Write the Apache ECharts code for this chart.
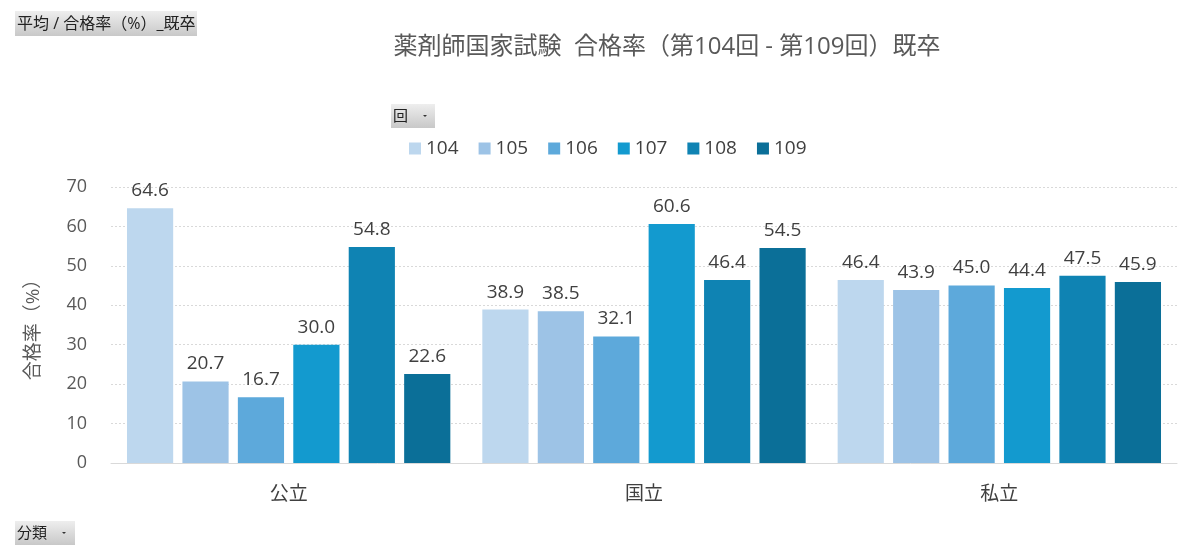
<!DOCTYPE html>
<html>
<head>
    <meta charset='UTF-8'>
    <script src="https://cdn.jsdelivr.net/npm/echarts@6/dist/echarts.min.js"></script>
    <style>
        html, body { margin: 0; padding: 0; background: #fff; }
        #chart { width: 1200px; height: 558px; }
    </style>
    <title>合格率</title>
</head>
<body>
    <div id="chart"></div>
    <script>
        // data
        var categories = ['公立', '国立', '私立'];
        var rounds = ['104', '105', '106', '107', '108', '109'];
        var rate104 = [64.6, 38.9, 46.4];
        var rate105 = [20.7, 38.5, 43.9];
        var rate106 = [16.7, 32.1, 45.0];
        var rate107 = [30.0, 60.6, 44.4];
        var rate108 = [54.8, 46.4, 47.5];
        var rate109 = [22.6, 54.5, 45.9];
        var yTicks = [0, 10, 20, 30, 40, 50, 60, 70];

        var allRates = [rate104, rate105, rate106, rate107, rate108, rate109];
        var colors = ['#BDD7EE', '#9DC3E6', '#5DA9DB', '#139ACF', '#0F83B3', '#0B6F98'];
        var font = '"Open Sans", "Noto Sans CJK JP", sans-serif';

        var myChart = echarts.init(document.getElementById('chart'), null, { renderer: 'canvas' });

        // gray filter-button look, optional dropdown arrow at arrowX
        function button(x, y, w, h, label, size, arrowX) {
            var kids = [{
                type: 'rect',
                shape: { x: 0, y: 0, width: w, height: h },
                style: {
                    fill: {
                        type: 'linear', x: 0, y: 0, x2: 0, y2: 1,
                        colorStops: [{ offset: 0, color: '#eeeeee' }, { offset: 1, color: '#c8c8c8' }]
                    }
                }
            }, {
                type: 'text',
                x: 2,
                y: h / 2 + 1,
                style: { text: label, font: size + 'px ' + font, fill: '#222', verticalAlign: 'middle' }
            }];
            if (arrowX) {
                kids.push({
                    type: 'polygon',
                    shape: { points: [[arrowX - 2, h / 2 - 1], [arrowX + 2, h / 2 - 1], [arrowX, h / 2 + 1]] },
                    style: { fill: '#333' }
                });
            }
            return { type: 'group', left: x, top: y, children: kids };
        }

        var series = rounds.map(function (r, i) {
            return {
                name: r,
                type: 'bar',
                data: allRates[i],
                barGap: '20%',
                barCategoryGap: '9%',
                itemStyle: { color: colors[i] },
                label: {
                    show: true,
                    position: 'top',
                    distance: 8,
                    formatter: function (p) { return p.value.toFixed(1); },
                    fontSize: 19,
                    fontFamily: font,
                    color: '#404040'
                }
            };
        });

        var option = {
            backgroundColor: '#fff',
            animation: false,
            title: {
                text: '薬剤師国家試験  合格率（第104回 - 第109回）既卒',
                left: 662,
                textAlign: 'center',
                top: 30,
                textStyle: { fontSize: 24, fontWeight: 'normal', color: '#595959', fontFamily: font }
            },
            legend: {
                data: rounds,
                left: 404,
                top: 134,
                itemWidth: 12,
                itemHeight: 12,
                itemGap: 20,
                icon: 'rect',
                textStyle: { fontSize: 19, color: '#404040', fontFamily: font }
            },
            grid: { left: 111, right: 23, top: 187, bottom: 95 },
            xAxis: {
                type: 'category',
                data: categories,
                axisLine: { lineStyle: { color: '#D9D9D9' } },
                axisTick: { show: false },
                axisLabel: { fontSize: 19, color: '#404040', margin: 22, fontFamily: font }
            },
            yAxis: {
                type: 'value',
                min: yTicks[0],
                max: yTicks[yTicks.length - 1],
                interval: 10,
                name: '合格率（%）',
                nameLocation: 'middle',
                nameRotate: 90,
                nameGap: 68,
                nameTextStyle: { fontSize: 19, color: '#595959', fontFamily: font },
                axisLine: { show: false },
                axisTick: { show: false },
                axisLabel: { fontSize: 18, color: '#595959', margin: 24, fontFamily: font },
                splitLine: { lineStyle: { color: '#D9D9D9', type: [2, 2] } }
            },
            series: series,
            graphic: [
                button(15, 11, 182, 25, '平均 / 合格率（%）_既卒', 16),
                button(391, 104, 44, 24, '回', 15, 34),
                button(15, 521, 60, 24, '分類', 15, 49)
            ]
        };

        myChart.setOption(option);
        window.addEventListener('resize', myChart.resize);
    </script>
</body>
</html>
